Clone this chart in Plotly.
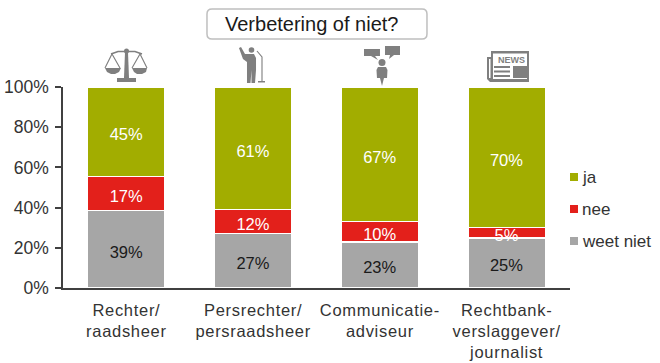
import plotly.graph_objects as go

categories = ["Rechter/<br>raadsheer", "Persrechter/<br>persraadsheer",
              "Communicatie-<br>adviseur", "Rechtbank-<br>verslaggever/<br>journalist"]
weet_niet = [39, 27, 23, 25]
nee = [17, 12, 10, 5]
ja = [45, 61, 67, 70]
series = [("weet niet", weet_niet, "#A6A6A6", "#1a1a1a"),
          ("nee", nee, "#E3201B", "#FFFFFF"),
          ("ja", ja, "#A2AD00", "#FFFFFF")]
tick_vals = [0, 20, 40, 60, 80, 100]
tick_text = ["0%", "20%", "40%", "60%", "80%", "100%"]
title_text = "Verbetering of niet?"
icon_text = "NEWS"

W, H = 660, 363
L, R, T, B = 63, 570, 87, 288
FONT = "Liberation Sans, Arial, sans-serif"
ICON = "#7F7F7F"


def X(x):
    return (x - L) / (R - L)


def Y(y):
    return (B - y) / (B - T)


def path(pts, close=True):
    s = "M" + " L".join(f"{X(a):.4f},{Y(b):.4f}" for a, b in pts)
    return s + (" Z" if close else "")


shapes = []


def poly(pts, fill=ICON):
    shapes.append(dict(type="path", xref="paper", yref="paper", path=path(pts),
                       fillcolor=fill, line=dict(width=0), layer="above"))


def line(pts, w=1.2, color=ICON):
    shapes.append(dict(type="path", xref="paper", yref="paper", path=path(pts, False),
                       line=dict(color=color, width=w), layer="above"))


def circ(cx, cy, r, fill=ICON):
    shapes.append(dict(type="circle", xref="paper", yref="paper", x0=X(cx - r), x1=X(cx + r),
                       y0=Y(cy + r), y1=Y(cy - r), fillcolor=fill, line=dict(width=0), layer="above"))


def rect(x0, y0, x1, y1, fill=ICON):
    poly([(x0, y0), (x1, y0), (x1, y1), (x0, y1)], fill)


# scales
circ(126.5, 51, 2.5)
line([(111, 54), (118, 51.5), (135, 51.5), (142, 54)], 1.6)
poly([(125, 52), (128, 52), (129, 78), (124, 78)])
rect(117, 78, 136, 82)
line([(105, 68), (112, 54), (120, 68)], 1.1)
line([(132, 68), (140, 54), (147, 68)], 1.1)
poly([(105, 68), (121, 68), (119, 72), (115, 74), (111, 74), (107, 72)])
poly([(132, 68), (147, 68), (146, 72), (142, 74), (137, 74), (134, 72)])

# speaker
circ(251.5, 50, 2.8)
poly([(239, 48), (241, 47), (245, 54), (249, 54), (254, 54), (256, 58), (256, 70), (255, 83),
      (251.5, 83), (251.5, 70), (250.5, 83), (247, 83), (247, 62), (243, 59)])
line([(257, 51), (262, 57), (262, 81)], 1.1)
rect(258, 81, 265, 82.5)

# communication adviser
poly([(364, 49), (380, 49), (380, 56), (375, 56), (378, 60), (371, 56), (364, 56)])
poly([(385, 46), (400, 46), (400, 55), (394, 55), (389, 59), (390, 55), (385, 55)])
circ(382, 62.5, 3.5)
poly([(378, 67), (386, 67), (387.5, 70), (387, 78), (384, 78), (382, 86), (380, 78), (377, 78), (376.5, 70)])

# newspaper
poly([(487, 57), (491, 57), (491, 51), (529, 51), (529, 82), (490, 82), (487, 79)])
rect(493, 53.5, 527, 79, "#FFFFFF")
rect(489, 59, 490.5, 78, "#FFFFFF")
rect(494, 66, 510, 68)
rect(494, 70.5, 510, 72.5)
rect(494, 75, 510, 77)
rect(513, 66, 527, 78)

# title box
x0, x1, y0, y1, r = 207, 427, 9, 39, 5
shapes.append(dict(type="path", xref="paper", yref="paper", layer="above",
                   line=dict(color="#BFBFBF", width=1.5), fillcolor="#FFFFFF",
                   path=(f"M{X(x0+r):.4f},{Y(y0):.4f} L{X(x1-r):.4f},{Y(y0):.4f} "
                         f"Q{X(x1):.4f},{Y(y0):.4f} {X(x1):.4f},{Y(y0+r):.4f} "
                         f"L{X(x1):.4f},{Y(y1-r):.4f} Q{X(x1):.4f},{Y(y1):.4f} {X(x1-r):.4f},{Y(y1):.4f} "
                         f"L{X(x0+r):.4f},{Y(y1):.4f} Q{X(x0):.4f},{Y(y1):.4f} {X(x0):.4f},{Y(y1-r):.4f} "
                         f"L{X(x0):.4f},{Y(y0+r):.4f} Q{X(x0):.4f},{Y(y0):.4f} {X(x0+r):.4f},{Y(y0):.4f} Z")))

annotations = [dict(text=title_text, x=X(311), y=Y(24), xref="paper", yref="paper", showarrow=False,
                    font=dict(family=FONT, size=20, color="#1a1a1a"), xanchor="center", yanchor="middle"),
               dict(text=f"<b>{icon_text}</b>", x=X(511), y=Y(60), xref="paper", yref="paper", showarrow=False,
                    font=dict(family=FONT, size=9, color=ICON), xanchor="center", yanchor="middle")]

# legend
for (name, vals, color, _), ly in zip(reversed(series), [177, 209, 241]):
    rect(570, ly - 4, 578, ly + 4, color)
    annotations.append(dict(text=name, x=X(580), y=Y(ly), xref="paper", yref="paper", showarrow=False,
                            font=dict(family=FONT, size=17, color="#333333"),
                            xanchor="left", yanchor="middle"))

fig = go.Figure()
for name, vals, color, tc in series:
    fig.add_bar(x=categories, y=vals, name=name, marker=dict(color=color, line=dict(color="#FFFFFF", width=1.5)),
                text=[f"{v}%" for v in vals], textposition="inside", insidetextanchor="middle",
                textangle=0, constraintext="none", cliponaxis=False,
                textfont=dict(family=FONT, size=16.5, color=tc), showlegend=False)

fig.update_layout(
    width=W, height=H, margin=dict(l=L, r=W - R, t=T, b=H - B, pad=0, autoexpand=False),
    barmode="stack", barnorm="percent", bargap=0.39, paper_bgcolor="#FFFFFF", plot_bgcolor="#FFFFFF",
    shapes=shapes, annotations=annotations, showlegend=False,
    font=dict(family=FONT, color="#333333"),
)
fig.update_xaxes(showline=True, linecolor="#404040", linewidth=1.5, ticks="", showgrid=False,
                 tickfont=dict(family=FONT, size=16.5, color="#333333"), ticklabelstandoff=6, tickangle=0)
fig.update_yaxes(range=[0, 100], tickvals=tick_vals, ticktext=tick_text, showline=True,
                 linecolor="#404040", linewidth=1.5, ticks="outside", ticklen=6, tickcolor="#404040",
                 tickwidth=1.5, showgrid=False, zeroline=False, ticklabelstandoff=3,
                 tickfont=dict(family=FONT, size=17.5, color="#333333"))
post = ("document.body.style.margin='0';document.documentElement.style.overflow='hidden';"
        "document.querySelectorAll('.barlayer text').forEach(t=>t.setAttribute('dy','2.5'));"
        "document.querySelectorAll('.xtick text').forEach(t=>t.style.letterSpacing='0.7px');")
fig.write_html("out.html", config={"displayModeBar": False}, post_script=post)
